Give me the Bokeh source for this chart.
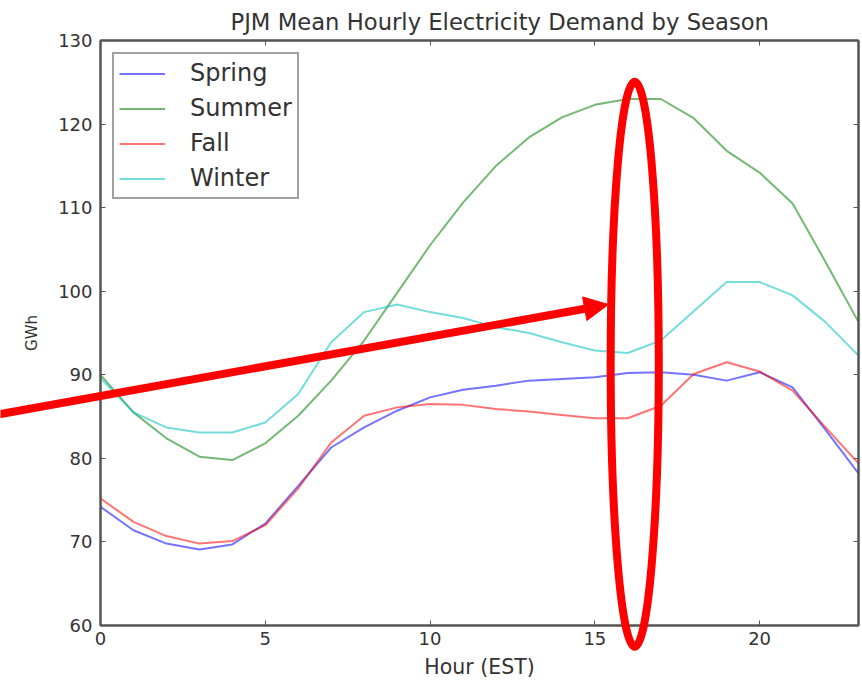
import numpy as np
from bokeh.plotting import figure
from bokeh.layouts import column
from bokeh.models import (LinearAxis, Arrow, NormalHead, Legend, LegendItem,
                          FixedTicker, Range1d)
from bokeh.embed import file_html
from bokeh.resources import INLINE

hours = list(range(24))
spring = [74.2, 71.4, 69.8, 69.1, 69.7, 72.2, 76.7, 81.3, 83.7, 85.7, 87.3, 88.2,
          88.7, 89.3, 89.5, 89.7, 90.2, 90.3, 90.0, 89.3, 90.3, 88.5, 83.4, 78.2]
summer = [90.0, 85.5, 82.4, 80.2, 79.8, 81.8, 85.1, 89.3, 94.1, 99.8, 105.5, 110.6,
          115.0, 118.4, 120.8, 122.3, 123.0, 123.0, 120.7, 116.8, 114.2, 110.5, 103.5, 96.3]
fall = [75.2, 72.4, 70.7, 69.8, 70.1, 72.0, 76.4, 81.9, 85.1, 86.1, 86.5, 86.4,
        85.9, 85.6, 85.2, 84.8, 84.8, 86.3, 90.1, 91.5, 90.4, 88.1, 83.7, 79.4]
winter = [89.6, 85.5, 83.7, 83.1, 83.1, 84.3, 87.7, 93.9, 97.5, 98.4, 97.5, 96.8,
          95.7, 95.0, 93.9, 92.9, 92.6, 94.1, 97.6, 101.1, 101.1, 99.5, 96.3, 92.3]
season_names = ["Spring", "Summer", "Fall", "Winter"]
season_colors = ["#0000ff", "#008000", "#ff0000", "#00bfbf"]
x_ticks = [0, 5, 10, 15, 20]
y_ticks = [60, 70, 80, 90, 100, 110, 120, 130]
X_MIN, X_MAX, Y_MIN, Y_MAX = 0, 23, 60, 130

# highlight annotation (in data units)
ELL_X, ELL_Y, ELL_W, ELL_H = 16.21, 91.5, 1.46, 67.6
ARR_X0, ARR_Y0, ARR_X1, ARR_Y1 = -3.1, 85.5, 15.41, 98.65

FONT = "DejaVu Sans"
TXT = "#333333"
AX = "#555555"

FW, FH = 758, 585
BL, BR, BT, BB = 100, 4, 40, 54
W, H = FW + BL + BR, FH + BT + BB

p = figure(frame_width=FW, frame_height=FH, output_backend="svg", toolbar_location=None,
           x_range=Range1d(X_MIN, X_MAX), y_range=Range1d(Y_MIN, Y_MAX),
           min_border_left=BL, min_border_top=BT, min_border_right=BR, min_border_bottom=BB,
           title="PJM Mean Hourly Electricity Demand by Season")
p.title.align = "left"
p.title.offset = 130
p.title.text_font = FONT
p.title.text_font_size = "22.7px"
p.title.text_font_style = "normal"
p.title.text_color = TXT
p.title.standoff = 12

p.grid.visible = False
p.background_fill_color = "white"
p.border_fill_color = "white"
p.outline_line_color = AX
p.outline_line_width = 2

for ax in (p.xaxis[0], p.yaxis[0]):
    ax.major_label_text_font = FONT
    ax.major_label_text_font_size = "18px"
    ax.major_label_text_color = TXT
    ax.axis_label_text_font = FONT
    ax.axis_label_text_font_style = "normal"
    ax.axis_label_text_color = TXT
    ax.axis_line_color = AX
    ax.axis_line_width = 2
    ax.major_tick_line_color = AX
    ax.major_tick_in = 5
    ax.major_tick_out = 0
    ax.minor_tick_line_color = None

p.xaxis[0].ticker = FixedTicker(ticks=x_ticks)
p.yaxis[0].ticker = FixedTicker(ticks=y_ticks)
p.xaxis[0].axis_label = "Hour (EST)"
p.xaxis[0].axis_label_text_font_size = "20.5px"
p.xaxis[0].major_label_standoff = 6
p.xaxis[0].axis_label_standoff = 7
p.yaxis[0].axis_label = "GWh"
p.yaxis[0].axis_label_text_font_size = "15px"
p.yaxis[0].major_label_standoff = 8
p.yaxis[0].axis_label_standoff = 14

for side, tk in (("right", y_ticks), ("above", x_ticks)):
    a = LinearAxis(ticker=FixedTicker(ticks=tk), major_label_text_font_size="1px",
                   major_label_text_color=None,
                   major_label_standoff=0, major_tick_in=5, major_tick_out=0,
                   major_tick_line_color=AX, minor_tick_line_color=None,
                   axis_line_color=AX, axis_line_width=2)
    p.add_layout(a, side)

items = []
for name, ys, col in zip(season_names, [spring, summer, fall, winter], season_colors):
    r = p.line(hours, ys, line_color=col, line_alpha=0.55, line_width=2)
    items.append(LegendItem(label=name, renderers=[r]))

legend = Legend(items=items, location="top_left", margin=12, padding=5, spacing=7,
                glyph_width=46, glyph_height=25, label_height=25, label_standoff=25,
                label_text_font=FONT, label_text_font_size="24px", label_text_color=TXT,
                border_line_color="#444444", border_line_width=2,
                background_fill_color="white", background_fill_alpha=1)
p.add_layout(legend)

# transparent overlay with the same data mapping, covering the whole canvas,
# so the red highlight is not clipped at the plot frame.  The column aligns the
# overlay's frame with the main frame (left border BL), so shift it back by BL.
sx, sy = FW / (X_MAX - X_MIN), FH / (Y_MAX - Y_MIN)
ov = figure(frame_width=W, frame_height=H, output_backend="svg", toolbar_location=None,
            x_range=Range1d(X_MIN - BL / sx, X_MAX + BR / sx),
            y_range=Range1d(Y_MIN - BB / sy, Y_MAX + BT / sy),
            x_axis_type=None, y_axis_type=None, min_border=0,
            margin=(-H, 0, 0, -BL))
ov.outline_line_color = None
ov.background_fill_alpha = 0
ov.border_fill_alpha = 0
ov.grid.visible = False
ov.ellipse(x=[ELL_X], y=[ELL_Y], width=[ELL_W], height=[ELL_H],
           fill_alpha=0, line_color="red", line_width=8)
ov.add_layout(Arrow(x_start=ARR_X0, y_start=ARR_Y0, x_end=ARR_X1, y_end=ARR_Y1,
                    line_color="red", line_width=8,
                    end=NormalHead(size=24, fill_color="red", line_color="red", line_width=1)))

layout = column(p, ov, spacing=0)
open("out.html", "w").write(file_html(layout, INLINE))
